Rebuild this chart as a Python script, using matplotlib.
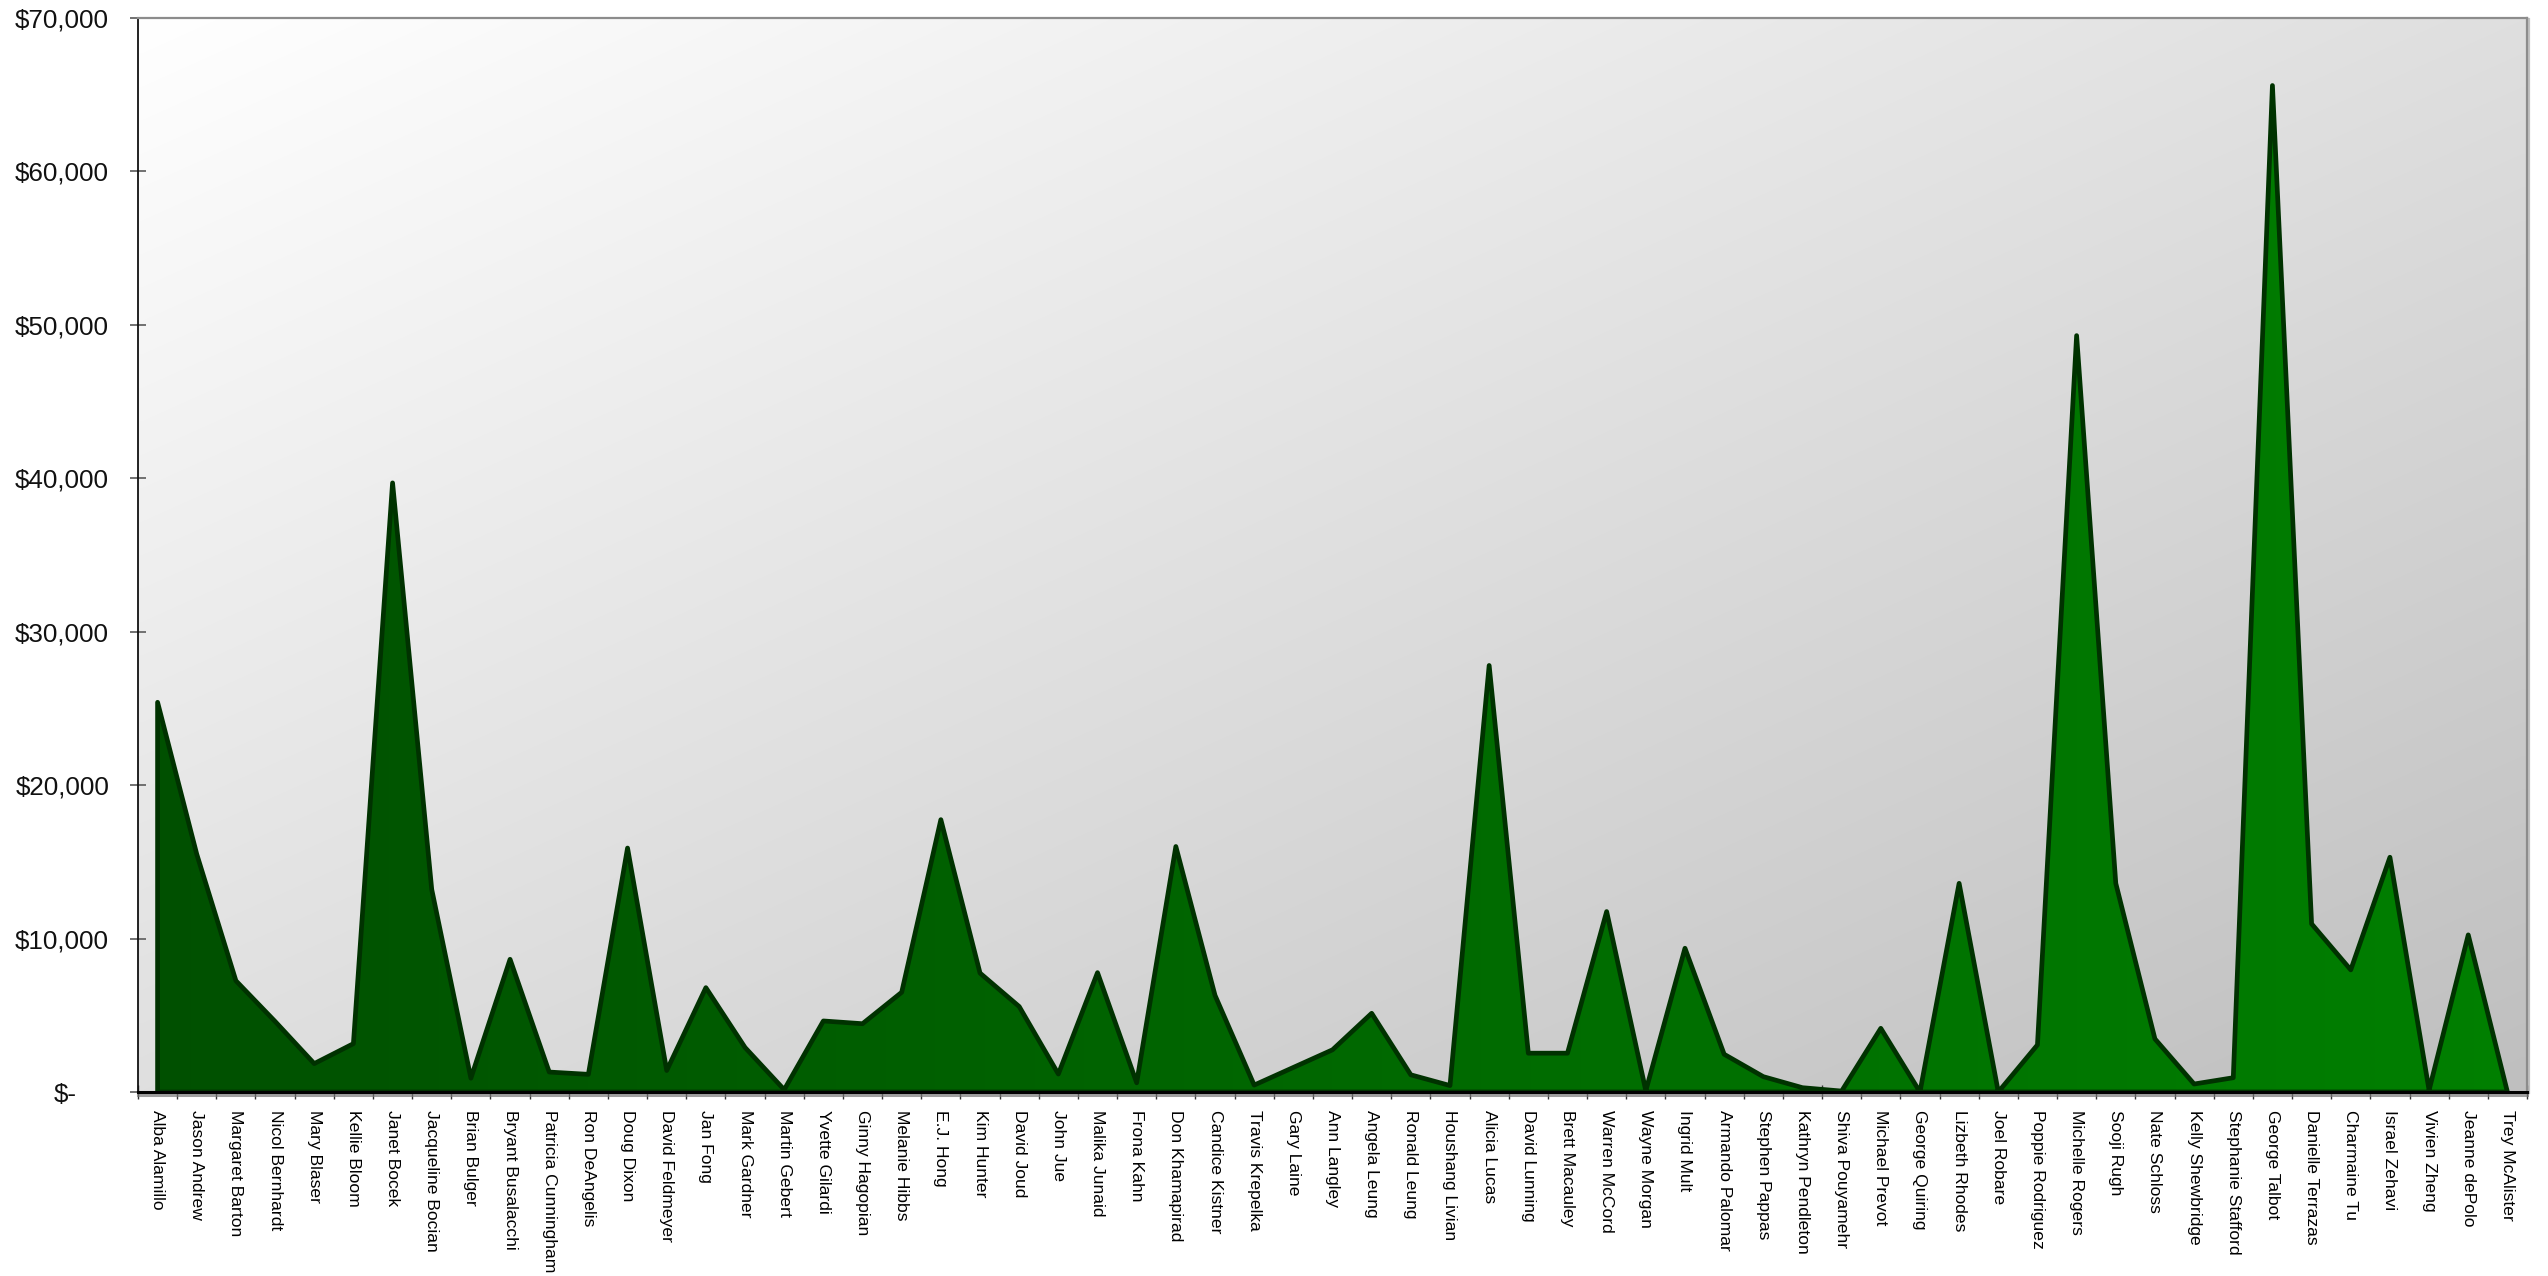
import numpy as np
import matplotlib
matplotlib.use('Agg')
import matplotlib.pyplot as plt
from matplotlib import font_manager
from matplotlib.patches import Polygon
from matplotlib.ticker import FixedLocator
import matplotlib.patheffects as pe
import matplotlib.transforms as mtransforms

# ---------------- data ----------------
names = [
    "Alba Alamillo", "Jason Andrew", "Margaret Barton", "Nicol Bernhardt", "Mary Blaser",
    "Kellie Bloom", "Janet Bocek", "Jacqueline Bocian", "Brian Bulger", "Bryant Busalacchi",
    "Patricia Cunningham", "Ron DeAngelis", "Doug Dixon", "David Feldmeyer", "Jan Fong",
    "Mark Gardner", "Martin Gebert", "Yvette Gilardi", "Ginny Hagopian", "Melanie Hibbs",
    "E.J. Hong", "Kim Hunter", "David Joud", "John Jue", "Malika Junaid",
    "Frona Kahn", "Don Khamapirad", "Candice Kistner", "Travis Krepelka", "Gary Laine",
    "Ann Langley", "Angela Leung", "Ronald Leung", "Houshang Livian", "Alicia Lucas",
    "David Lunning", "Brett Macauley", "Warren McCord", "Wayne Morgan", "Ingrid Mult",
    "Armando Palomar", "Stephen Pappas", "Kathryn Pendleton", "Shiva Pouyamehr", "Michael Prevot",
    "George Quiring", "Lizbeth Rhodes", "Joel Robare", "Poppie Rodriguez", "Michelle Rogers",
    "Sooji Rugh", "Nate Schloss", "Kelly Shewbridge", "Stephanie Stafford", "George Talbot",
    "Danielle Terrazas", "Charmaine Tu", "Israel Zehavi", "Vivien Zheng", "Jeanne dePolo",
    "Trey McAlister",
]
sales = [
    25400, 15500, 7250, 4600, 1850,
    3150, 39700, 13200, 900, 8650,
    1300, 1150, 15900, 1400, 6800,
    2900, 150, 4630, 4450, 6500,
    17750, 7750, 5570, 1170, 7780,
    600, 16000, 6300, 450, 1600,
    2750, 5130, 1120, 420, 27800,
    2530, 2530, 11760, 80, 9370,
    2460, 1000, 280, 60, 4150,
    0, 13600, 0, 3070, 49300,
    13600, 3460, 520, 930, 65600,
    10960, 7960, 15300, 120, 10240,
    0,
]
y_ticks = [0, 10000, 20000, 30000, 40000, 50000, 60000, 70000]
y_tick_labels = ["$-", "$10,000", "$20,000", "$30,000", "$40,000", "$50,000", "$60,000", "$70,000"]

# ---------------- fonts ----------------
available = {f.name for f in font_manager.fontManager.ttflist}
def pick(*cands):
    for c in cands:
        if c in available:
            return c
    return "DejaVu Sans"
narrow = pick("Liberation Sans Narrow", "DejaVu Sans Condensed", "Liberation Sans")
regular = pick("Liberation Sans", "Arimo", "DejaVu Sans")
xlabel_size = 15.4 if narrow == "Liberation Sans Narrow" else 12.6

# ---------------- figure ----------------
W, H = 2548, 1276
fig = plt.figure(figsize=(W / 100, H / 100), dpi=100)
fig.patch.set_facecolor("white")
L, R, T, B = 138, 2527, 18, 1092
ax = fig.add_axes([L / W, 1 - B / H, (R - L) / W, (B - T) / H])

n = len(names)
x = np.arange(n)
ymax = y_ticks[-1]

# background diagonal gradient (white top-left -> gray bottom-right)
g = np.linspace(0, 1, 300)
GX, GY = np.meshgrid(g, g)  # GY: 0 at bottom (origin lower)
t = (GX + (1 - GY)) / 2.0
bgv = (255 - t * 64) / 255.0
bg = np.dstack([bgv, bgv, bgv])
ax.imshow(bg, extent=[-0.5, n - 0.5, 0, ymax], origin="lower", aspect="auto",
          zorder=0, interpolation="bilinear")

# area polygon from data
verts = np.column_stack([np.r_[x[0], x, x[-1]], np.r_[0, sales, 0]])
poly = Polygon(verts, closed=True, facecolor="none", edgecolor="#003200",
               linewidth=3.4, joinstyle="round", zorder=3)
ax.add_patch(poly)

# horizontal green gradient, clipped to polygon
gg = np.linspace(0, 1, 400)
gcol = np.zeros((2, 400, 3))
gcol[..., 1] = (80 + gg * 48) / 255.0
img = ax.imshow(gcol, extent=[-0.5, n - 0.5, 0, ymax], origin="lower", aspect="auto",
                zorder=2, interpolation="bilinear")
img.set_clip_path(poly)

ax.set_xlim(-0.5, n - 0.5)
ax.set_ylim(0, ymax)

# y axis
ax.set_yticks(y_ticks)
ax.set_yticklabels(y_tick_labels, fontsize=18.7, family=regular, color="#111111")
ax.tick_params(axis="y", direction="inout", length=11.5, width=1.3, color="#666666", pad=15)
zero_lbl = ax.get_yticklabels()[0]
zero_lbl.set_transform(zero_lbl.get_transform() +
                       mtransforms.ScaledTranslation(-32 / 100, 0, fig.dpi_scale_trans))

# x axis
ax.set_xticks(x)
ax.set_xticklabels(names, rotation=-90, fontsize=xlabel_size, family=narrow,
                   ha="center", va="top", color="#000000")
ax.tick_params(axis="x", which="major", length=0, pad=13)
ax.xaxis.set_minor_locator(FixedLocator(np.arange(n + 1) - 0.5))
ax.tick_params(axis="x", which="minor", direction="inout", length=9.5, width=1.0, color="#333333")

# spines
ax.spines["left"].set_color("#111111")
ax.spines["left"].set_linewidth(1.3)
ax.spines["bottom"].set_color("#000000")
ax.spines["bottom"].set_linewidth(2.2)
ax.spines["bottom"].set_zorder(5)
ax.spines["bottom"].set_path_effects([
    pe.SimpleLineShadow(offset=(0, -2), shadow_color="#777777", alpha=0.7), pe.Normal()])
for s in ("top", "right"):
    ax.spines[s].set_color("#8c8c8c")
    ax.spines[s].set_linewidth(1.6)
ax.spines["right"].set_path_effects([
    pe.SimpleLineShadow(offset=(1.5, -1), shadow_color="#999999", alpha=0.6), pe.Normal()])

fig.savefig("out.png", dpi=100, facecolor="white")
